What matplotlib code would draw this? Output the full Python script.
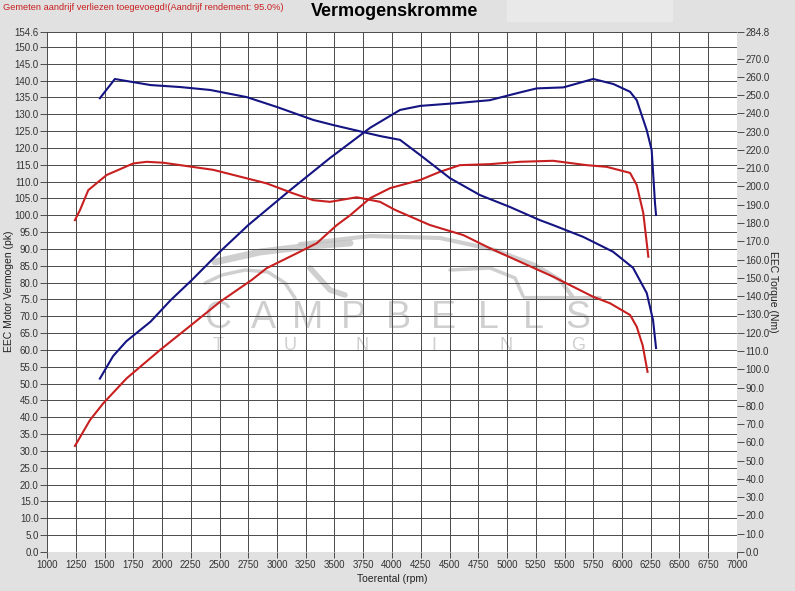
import matplotlib.pyplot as plt
import numpy as np
from matplotlib.patches import Rectangle

plt.rcParams['font.family'] = ['Liberation Sans', 'DejaVu Sans']

# power (pk), left axis
rpm_red_p = [1243, 1374, 1490, 1693, 1983, 2272, 2504, 2780, 2910, 3200, 3345, 3520, 3635,
             3810, 3985, 4245, 4415, 4590, 4850, 5113, 5400, 5693, 5867, 6070, 6128, 6185, 6229]
pk_red = [31.5, 39.2, 44.2, 51.6, 60.0, 67.9, 74.3, 80.8, 84.3, 89.2, 91.7, 97.1, 100.0,
          105.1, 108.1, 110.5, 112.9, 114.9, 115.2, 115.9, 116.2, 114.9, 114.4, 112.6, 109.0, 100.7, 87.7]

rpm_blue_p = [1460, 1575, 1690, 1900, 2075, 2260, 2504, 2750, 3115, 3460, 3810, 4070, 4245,
              4590, 4850, 5113, 5258, 5490, 5750, 5925, 6070, 6128, 6215, 6258, 6287, 6296]
pk_blue = [51.5, 58.2, 62.6, 68.4, 74.8, 80.8, 89.2, 97.1, 107.5, 117.0, 126.0, 131.3, 132.5,
           133.4, 134.2, 136.5, 137.7, 138.0, 140.5, 139.0, 136.7, 134.2, 125.3, 119.4, 103.6, 100.1]

# torque (Nm), right axis
rpm_red_t = [1243, 1287, 1359, 1519, 1750, 1867, 2011, 2446, 2910, 3142, 3316, 3461, 3693,
             3896, 4026, 4330, 4620, 4852, 5113, 5400, 5748, 5896, 6070, 6128, 6180, 6222]
nm_red = [181.6, 187.1, 198.0, 206.3, 212.6, 213.5, 213.0, 209.1, 201.7, 196.2, 192.5, 191.6, 194.1,
          191.6, 187.2, 178.9, 173.4, 166.2, 158.8, 150.7, 139.7, 136.1, 129.7, 123.3, 113.0, 98.6]

rpm_blue_t = [1460, 1590, 1900, 2160, 2420, 2737, 2999, 3316, 3490, 3896, 4070, 4245, 4505,
              4765, 5025, 5285, 5400, 5663, 5922, 6096, 6215, 6270, 6296]
nm_blue = [248.3, 258.8, 255.5, 254.4, 252.8, 248.9, 243.5, 236.4, 233.6, 227.6, 225.5, 217.2, 204.5,
           195.3, 188.8, 181.6, 178.9, 172.4, 164.3, 155.5, 141.7, 126.9, 111.6]

left_ticks = [154.6] + list(np.arange(0, 151, 5.0))
right_ticks = [284.8] + list(np.arange(0, 271, 10.0))
x_ticks = list(range(1000, 7001, 250))

RED = '#c82020'
BLUE = '#141482'
BG = '#e1e1e1'
WM = '#c4c4c4'

fig = plt.figure(figsize=(7.95, 5.91), dpi=100, facecolor=BG)
ax = fig.add_axes([47 / 795, 1 - 552 / 591, 690 / 795, 520.5 / 591])
ax.set_facecolor('white')
ax.set_xlim(1000, 7000)
ax.set_ylim(0, 154.6)
ax.set_xticks(x_ticks)
ax.set_yticks(left_ticks)
ax.set_yticklabels(['%.1f' % v for v in left_ticks])
ax.tick_params(labelsize=7, colors='#333333', length=5, width=0.6, pad=1)
ax.tick_params(axis='x', length=4, pad=2)
ax.grid(True, color='#4a4a4a', linewidth=0.7)
for s in ax.spines.values():
    s.set_visible(False)
ax.set_xlabel('Toerental (rpm)', fontsize=7.5, color='#222222', labelpad=3)
ax.set_ylabel('EEC Motor Vermogen (pk)', fontsize=7.5, color='#222222', va='center')
ax.yaxis.set_label_coords(-0.055, 0.5)

ax2 = ax.twinx()
ax2.set_ylim(0, 284.8)
ax2.set_yticks(right_ticks)
ax2.set_yticklabels(['%.1f' % v for v in right_ticks])
ax2.tick_params(labelsize=7, colors='#333333', length=5, width=0.6, pad=1)
for s in ax2.spines.values():
    s.set_visible(False)
ax2.set_ylabel('EEC Torque (Nm)', fontsize=7.5, color='#222222', rotation=270, va='center')
ax2.yaxis.set_label_coords(1.052, 0.5)


# watermark (pixel positions -> axes fraction)
def px(x, y):
    return ((x - 47) / 690, (552 - y) / 520.5)


def stroke(points, lw=3):
    pts = [px(*p) for p in points]
    ax.plot([p[0] for p in pts], [p[1] for p in pts], transform=ax.transAxes,
            color=WM, lw=lw, alpha=0.8, zorder=1, solid_capstyle='round')


stroke([(215, 262), (260, 252), (310, 246), (350, 243)], lw=5)
stroke([(300, 244), (370, 236), (440, 238), (495, 250), (535, 265), (560, 280), (572, 296)])
stroke([(525, 298), (600, 298)])
stroke([(205, 283), (222, 275), (245, 270), (268, 272), (285, 283), (295, 298)], lw=2.5)
stroke([(310, 268), (330, 290), (345, 295)], lw=4)
stroke([(450, 270), (490, 268), (515, 278), (523, 296)], lw=2.5)

for ch, x in zip('CAMPBELLS', np.linspace(218, 578, 9)):
    cx, cy = px(x, 318)
    ax.text(cx, cy, ch, transform=ax.transAxes, ha='center', va='center',
            fontsize=27, color=WM, alpha=0.8, zorder=1)
for ch, x in zip('TUNING', np.linspace(218, 578, 6)):
    cx, cy = px(x, 346)
    ax.text(cx, cy, ch, transform=ax.transAxes, ha='center', va='center',
            fontsize=13, color=WM, alpha=0.8, zorder=1)

ax.plot(rpm_red_p, pk_red, color=RED, lw=1.5, zorder=3)
ax.plot(rpm_blue_p, pk_blue, color=BLUE, lw=1.5, zorder=3)
ax2.plot(rpm_red_t, nm_red, color=RED, lw=1.5, zorder=3)
ax2.plot(rpm_blue_t, nm_blue, color=BLUE, lw=1.5, zorder=3)

fig.patches.append(Rectangle((507 / 795, 1 - 21 / 591), 165 / 795, 21 / 591,
                             transform=fig.transFigure, color='#e9e9e9', zorder=0))
fig.text(3 / 795, 1 - 8 / 591, 'Gemeten aandrijf verliezen toegevoegd!(Aandrijf rendement: 95.0%)',
         fontsize=6.7, color=RED, va='center', ha='left')
fig.text(395 / 795, 1 - 12 / 591, 'Vermogenskromme', fontsize=13, fontweight='bold',
         color='black', va='center', ha='center')

fig.savefig('out.png', dpi=100, facecolor=BG)
